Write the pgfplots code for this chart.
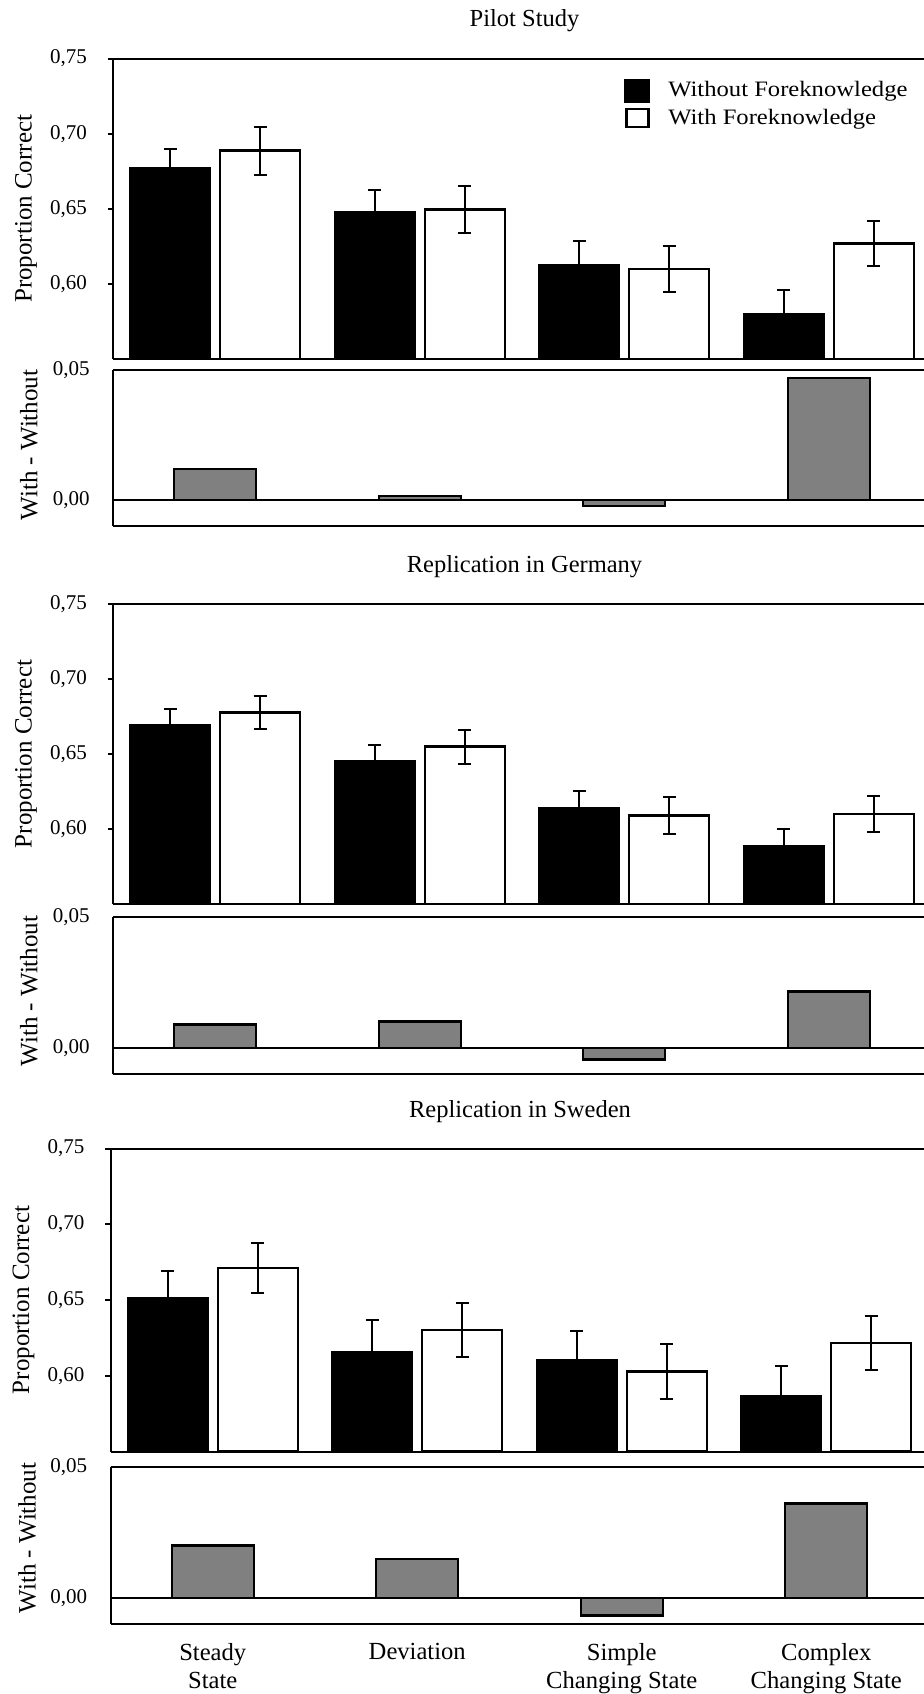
\documentclass[border=0pt]{standalone}
\usepackage{pgfplots}
\usepackage{pgfplotstable}
\pgfplotsset{compat=1.18}
\usepackage{fontspec}
\setmainfont{Liberation Serif}
\newfontfamily\legfontfam{Liberation Serif}[FakeStretch=1.12]
\newcommand\ticfont{\fontsize{10.5}{12}\selectfont}
\newcommand\titfont{\fontsize{12.25}{14}\selectfont}
\newcommand\labfont{\fontsize{12.5}{14}\selectfont}
\newcommand\legfont{\legfontfam\fontsize{11}{13}\selectfont}
\newcommand\catfont{\fontsize{12.3}{14}\selectfont}
\definecolor{diffgray}{HTML}{808080}

\pgfplotstableread{
x wo woe w we d
1 0.6770 0.0130 0.6887 0.0160 0.0120
2 0.6480 0.0146 0.6495 0.0158 0.0015
3 0.6124 0.0162 0.6100 0.0152 -0.0022
4 0.5796 0.0165 0.6270 0.0150 0.0470
}\pilot
\pgfplotstableread{
x wo woe w we d
1 0.6692 0.0110 0.6777 0.0112 0.0090
2 0.6451 0.0110 0.6549 0.0114 0.0100
3 0.6138 0.0115 0.6090 0.0124 -0.0045
4 0.5886 0.0117 0.6099 0.0122 0.0215
}\germany
\pgfplotstableread{
x wo woe w we d
1 0.6510 0.0180 0.6712 0.0165 0.0200
2 0.6155 0.0215 0.6302 0.0180 0.0147
3 0.6100 0.0197 0.6027 0.0180 -0.0068
4 0.5862 0.0200 0.6217 0.0180 0.0360
}\sweden

\pgfplotsset{
  panel/.style={scale only axis, xmin=0.5,
    axis x line=box, axis y line=left,
    axis line style={-, line width=1pt, black},
    xtick=\empty, tick align=outside, major tick length=2.5pt,
    tick style={line width=1pt, black},
    scaled y ticks=false,
    yticklabel style={font=\ticfont, inner sep=0pt},
  },
  toppanel/.style={panel, ymin=0.55, ymax=0.75,
    ytick={0.60,0.65,0.70,0.75}, yticklabels={{0,60},{0,65},{0,70},{0,75}},
    yticklabel shift=10.35pt},
  lowpanel/.style={panel, ymin=-0.01, ymax=0.05,
    ytick={0,0.05}, yticklabels={{0,00},{0,05}},
    every major y tick/.append style={draw=none},
    yticklabel shift=9pt},
  ebars/.style={error bars/.cd, y dir=both, y explicit,
    error bar style={line width=1pt, black},
    error mark options={rotate=90, mark size=3.25pt, line width=1pt, black}},
  wobar/.style={ybar, bar width=40pt, bar shift=0pt, fill=black, draw=black, line width=1.2pt, forget plot, ebars},
  wbar/.style={ybar, bar width=40pt, bar shift=0pt, fill=white, draw=black, line width=1.2pt, forget plot, ebars},
  dbar/.style={ybar, bar width=41pt, bar shift=0pt, fill=diffgray, draw=black, line width=1.2pt, forget plot},
}

\begin{document}
\begin{tikzpicture}
\path[use as bounding box] (0,0) rectangle (462pt,-847pt);

% ---------- Pilot Study ----------
\node[anchor=base, font=\titfont] at (262.25pt,-13.35pt) {Pilot Study};
\node[anchor=base, rotate=90, font=\labfont] at (15.85pt,-104.4pt) {Proportion Correct};
\node[anchor=base, rotate=90, font=\labfont] at (18.65pt,-222.5pt) {With - Without};
\begin{axis}[toppanel, at={(56.5pt,-179.5pt)}, anchor=south west,
  width=405.5pt, height=150.25pt, xmax=4.4658,
  legend style={at={(0.630,0.938)}, anchor=north west, draw=none, fill=none,
    font=\legfont, inner sep=0pt, row sep=0.5pt,
    /tikz/every odd column/.append style={column sep=7pt}},
  legend cell align=left]
\addplot[wobar] table[x expr=\thisrow{x}-0.22, y=wo, y error=woe] {\pilot};
\addplot[wbar] table[x expr=\thisrow{x}+0.22, y=w, y error=we] {\pilot};
\addlegendimage{legend image code/.code={\draw[fill=black,draw=black,line width=1pt] (0pt,-5.5pt) rectangle (12pt,5.5pt);}}
\addlegendentry{Without Foreknowledge}
\addlegendimage{legend image code/.code={\draw[fill=white,draw=black,line width=1.3pt] (0.5pt,-4.5pt) rectangle (11.5pt,4.5pt);}}
\addlegendentry{With Foreknowledge}
\end{axis}
\begin{axis}[lowpanel, at={(56.5pt,-263pt)}, anchor=south west,
  width=405.5pt, height=78pt, xmax=4.4658]
\addplot[black, line width=1pt, forget plot] coordinates {(0.5,0) (4.6,0)};
\addplot[dbar] table[x=x, y=d] {\pilot};
\end{axis}

% ---------- Replication in Germany ----------
\node[anchor=base, font=\titfont] at (262.25pt,-286.25pt) {Replication in Germany};
\node[anchor=base, rotate=90, font=\labfont] at (15.85pt,-377pt) {Proportion Correct};
\node[anchor=base, rotate=90, font=\labfont] at (18.65pt,-495.5pt) {With - Without};
\begin{axis}[toppanel, at={(56.5pt,-452pt)}, anchor=south west,
  width=405.5pt, height=150pt, xmax=4.4658]
\addplot[wobar] table[x expr=\thisrow{x}-0.22, y=wo, y error=woe] {\germany};
\addplot[wbar] table[x expr=\thisrow{x}+0.22, y=w, y error=we] {\germany};
\end{axis}
\begin{axis}[lowpanel, at={(56.5pt,-537pt)}, anchor=south west,
  width=405.5pt, height=78.5pt, xmax=4.4658]
\addplot[black, line width=1pt, forget plot] coordinates {(0.5,0) (4.6,0)};
\addplot[dbar] table[x=x, y=d] {\germany};
\end{axis}

% ---------- Replication in Sweden ----------
\node[anchor=base, font=\titfont] at (260pt,-558.5pt) {Replication in Sweden};
\node[anchor=base, rotate=90, font=\labfont] at (14.6pt,-650pt) {Proportion Correct};
\node[anchor=base, rotate=90, font=\labfont] at (17.75pt,-769pt) {With - Without};
\begin{axis}[toppanel, at={(55.25pt,-725.75pt)}, anchor=south west,
  width=406.75pt, height=151.5pt, xmax=4.478]
\addplot[wobar] table[x expr=\thisrow{x}-0.22, y=wo, y error=woe] {\sweden};
\addplot[wbar] table[x expr=\thisrow{x}+0.22, y=w, y error=we] {\sweden};
\end{axis}
\begin{axis}[lowpanel, at={(55.25pt,-812pt)}, anchor=south west,
  width=406.75pt, height=78.65pt, xmax=4.478,
  xtick={1,2,3,4},
  xticklabels={{Steady\\State},{Deviation},{Simple\\Changing State},{Complex\\Changing State}},
  xticklabel style={font=\catfont, align=center, inner sep=0pt, yshift=-7pt},
  every major x tick/.append style={draw=none}]
\addplot[black, line width=1pt, forget plot] coordinates {(0.5,0) (4.6,0)};
\addplot[dbar] table[x=x, y=d] {\sweden};
\end{axis}
\end{tikzpicture}
\end{document}
